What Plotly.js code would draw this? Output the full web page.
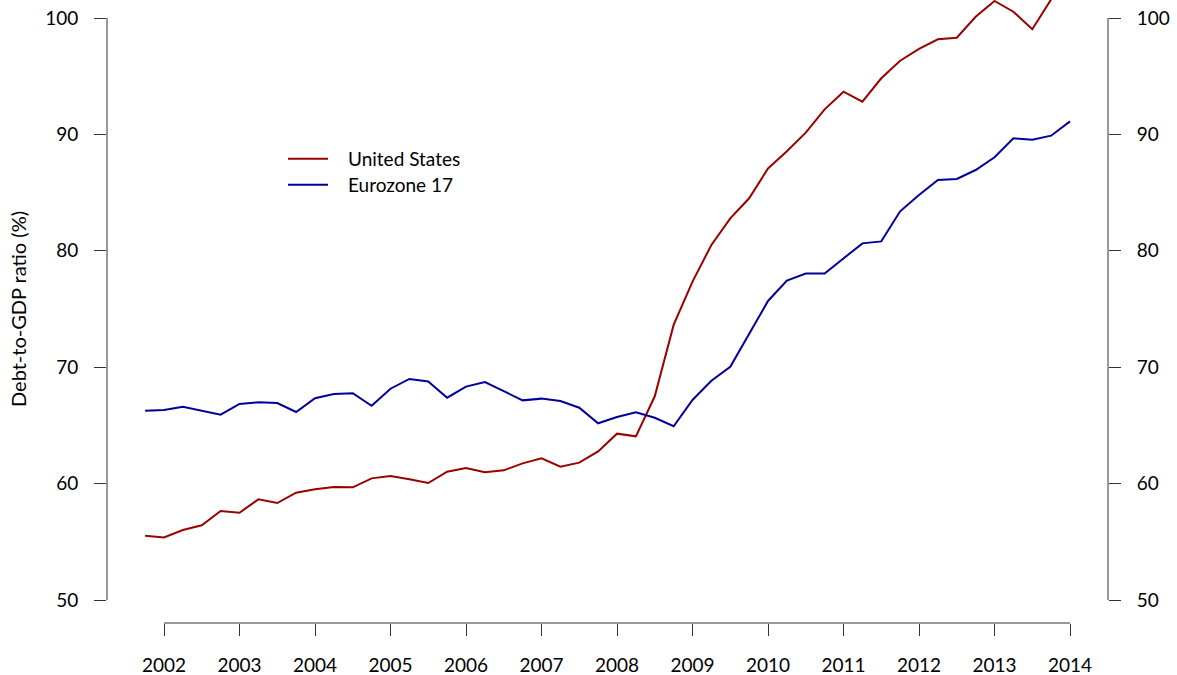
<!DOCTYPE html>
<html>
<head>
<meta charset="utf-8">
<script src="https://cdn.plot.ly/plotly-3.0.1.min.js"></script>
<style>html,body{margin:0;padding:0;background:#fff;}#chart{width:1177px;height:675px;}</style>
</head>
<body>
<div id="chart"></div>
<script>
// Quarterly observations (decimal years)
const quarters = [
  2001.75, 2002.00, 2002.25, 2002.50, 2002.75, 2003.00, 2003.25, 2003.50, 2003.75,
  2004.00, 2004.25, 2004.50, 2004.75, 2005.00, 2005.25, 2005.50, 2005.75,
  2006.00, 2006.25, 2006.50, 2006.75, 2007.00, 2007.25, 2007.50, 2007.75,
  2008.00, 2008.25, 2008.50, 2008.75, 2009.00, 2009.25, 2009.50, 2009.75,
  2010.00, 2010.25, 2010.50, 2010.75, 2011.00, 2011.25, 2011.50, 2011.75,
  2012.00, 2012.25, 2012.50, 2012.75, 2013.00, 2013.25, 2013.50, 2013.75,
  2014.00
];

const unitedStates = [
  55.53, 55.38, 56.01, 56.42, 57.65, 57.50, 58.65, 58.33, 59.22,
  59.51, 59.71, 59.68, 60.45, 60.65, 60.37, 60.05, 61.02,
  61.34, 60.97, 61.14, 61.74, 62.17, 61.45, 61.80, 62.77,
  64.29, 64.06, 67.50, 73.63, 77.35, 80.50, 82.79, 84.51,
  87.08, 88.55, 90.15, 92.15, 93.67, 92.81, 94.82, 96.33,
  97.34, 98.17, 98.31, 100.11, 101.46, 100.54, 99.04, 101.60,
  102.60
];

const eurozone17 = [
  66.26, 66.32, 66.61, 66.26, 65.92, 66.84, 66.98, 66.92, 66.15,
  67.33, 67.70, 67.76, 66.69, 68.15, 68.99, 68.77, 67.38,
  68.33, 68.73, 67.94, 67.15, 67.30, 67.10, 66.52, 65.18,
  65.72, 66.12, 65.66, 64.93, 67.18, 68.84, 70.04, 72.91,
  75.69, 77.45, 78.05, 78.05, 79.35, 80.64, 80.81, 83.39,
  84.79, 86.08, 86.17, 86.94, 88.03, 89.66, 89.55, 89.89,
  91.12
];

const yearTicks = [2002, 2003, 2004, 2005, 2006, 2007, 2008, 2009, 2010, 2011, 2012, 2013, 2014];
const yearLabels = ['2002','2003','2004','2005','2006','2007','2008','2009','2010','2011','2012','2013','2014'];
const yTicks = [50, 60, 70, 80, 90, 100];
const yLabels = ['50','60','70','80','90','100'];
const seriesNames = ['United States', 'Eurozone 17'];
const yTitle = 'Debt-to-GDP ratio (%)';

const FONT = 'Lato, "Open Sans", "DejaVu Sans", sans-serif';
const AXIS = '#333333';
const RED = '#990000';
const BLUE = '#000099';
const colors = [RED, BLUE];

const traces = [
  {x: quarters, y: unitedStates, name: seriesNames[0], type: 'scatter', mode: 'lines',
   line: {color: RED, width: 2}, showlegend: false},
  {x: quarters, y: eurozone17, name: seriesNames[1], type: 'scatter', mode: 'lines',
   line: {color: BLUE, width: 2}, showlegend: false},
  {x: [quarters[0]], y: [null], yaxis: 'y2', showlegend: false, hoverinfo: 'skip', type: 'scatter', mode: 'lines'}
];

const yMin = yTicks[0], yMax = yTicks[yTicks.length - 1];
const xMin = yearTicks[0], xMax = yearTicks[yearTicks.length - 1];

const yAxisCommon = {
  range: [48.024, 101.546],
  tickvals: yTicks, ticktext: yLabels,
  ticks: 'outside', ticklen: 12, tickwidth: 1, tickcolor: AXIS,
  ticklabelstandoff: 12,
  showgrid: false, zeroline: false, showline: false,
  tickfont: {family: FONT, size: 19, color: '#000'},
  fixedrange: true
};

// Legend (drawn in pixel-based paper coordinates of the plot area)
const plotL = 107, plotW = 1001, plotH = 623;
const legendRows = [158.7, 184.7];
const legendShapes = seriesNames.map((n, i) => ({
  type: 'line', xref: 'paper', yref: 'paper',
  x0: (288 - plotL) / plotW, x1: (328 - plotL) / plotW,
  y0: 1 - legendRows[i] / plotH, y1: 1 - legendRows[i] / plotH,
  line: {color: colors[i], width: 2}
}));
const legendTexts = seriesNames.map((n, i) => ({
  text: n, xref: 'paper', yref: 'paper',
  x: (346 - plotL) / plotW, y: 1 - legendRows[i] / plotH,
  xanchor: 'left', yanchor: 'middle', showarrow: false,
  font: {family: FONT, size: 19, color: '#000'}
}));

const layout = {
  width: 1177, height: 675,
  margin: {l: 107, r: 69, t: 0, b: 52, pad: 0},
  paper_bgcolor: '#fff', plot_bgcolor: '#fff',
  font: {family: FONT, size: 19, color: '#000'},
  showlegend: false,
  xaxis: {
    range: [2001.245, 2014.503],
    tickvals: yearTicks, ticktext: yearLabels,
    ticks: 'outside', ticklen: 12, tickwidth: 1, tickcolor: AXIS,
    ticklabelstandoff: 13,
    showgrid: false, zeroline: false, showline: false,
    tickfont: {family: FONT, size: 19, color: '#000'},
    fixedrange: true
  },
  yaxis: Object.assign({}, yAxisCommon, {side: 'left'}),
  yaxis2: Object.assign({}, yAxisCommon, {side: 'right', overlaying: 'y'}),
  shapes: [
    {type: 'line', xref: 'paper', yref: 'y', x0: 0, x1: 0, y0: yMin, y1: yMax, line: {color: AXIS, width: 1}},
    {type: 'line', xref: 'paper', yref: 'y', x0: 1, x1: 1, y0: yMin, y1: yMax, line: {color: AXIS, width: 1}},
    {type: 'line', xref: 'x', yref: 'paper', x0: xMin, x1: xMax, y0: 0, y1: 0, line: {color: AXIS, width: 1}}
  ].concat(legendShapes),
  annotations: [
    {text: yTitle, xref: 'paper', yref: 'y', x: 0, y: (yMin + yMax) / 2, xshift: -89,
     xanchor: 'center', yanchor: 'middle', textangle: -90, showarrow: false,
     font: {family: FONT, size: 20, color: '#000'}}
  ].concat(legendTexts)
};

Plotly.newPlot('chart', traces, layout, {displayModeBar: false, staticPlot: true});
</script>
</body>
</html>
